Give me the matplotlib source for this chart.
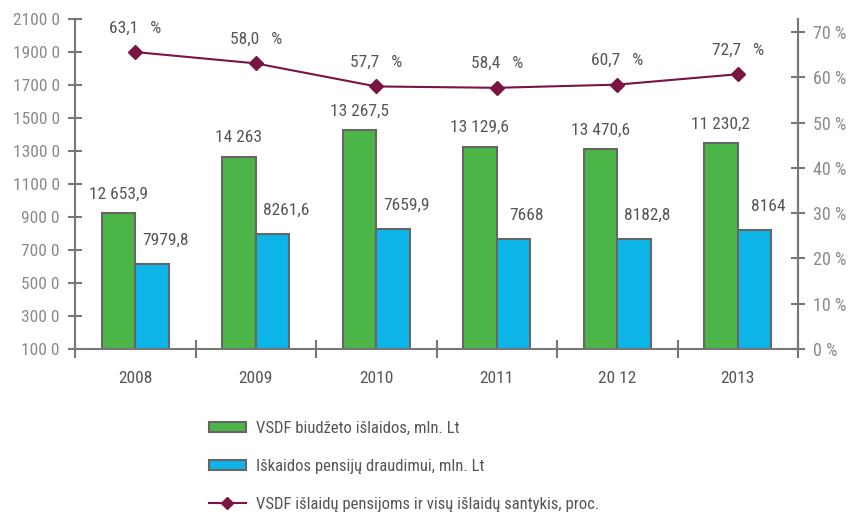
import matplotlib
matplotlib.use("Agg")
import matplotlib.pyplot as plt
from matplotlib import font_manager as fm
from matplotlib.patches import Patch
from matplotlib.lines import Line2D
import numpy as np

# ---- data ----
years = ["2008", "2009", "2010", "2011", "20 12", "2013"]
budget = [9250, 12653.9, 14263, 13267.5, 13129.6, 13470.6]
pension = [6150, 7979.8, 8261.6, 7659.9, 7668, 8182.8]
ratio = [65.6, 63.1, 58.0, 57.7, 58.4, 60.7]
budget_labels = ["12 653,9", "14 263", "13 267,5", "13 129,6", "13 470,6", "11 230,2"]
pension_labels = ["7979,8", "8261,6", "7659,9", "7668", "8182,8", "8164"]
ratio_labels = ["63,1   %", "58,0   %", "57,7   %", "58,4   %", "60,7   %", "72,7   %"]
left_ticks = [1000, 3000, 5000, 7000, 9000, 11000, 13000, 15000, 17000, 19000, 21000]
left_tick_labels = ["100 0", "300 0", "500 0", "700 0", "900 0", "1100 0", "1300 0",
                    "1500 0", "1700 0", "1900 0", "2100 0"]
right_ticks = [0, 10, 20, 30, 40, 50, 60, 70]
right_tick_labels = ["0 %", "10 %", "20 %", "30 %", "40 %", "50 %", "60 %", "70 %"]
legend_labels = ["VSDF biudžeto išlaidos, mln. Lt",
                 "Iškaidos pensijų draudimui, mln. Lt",
                 "VSDF išlaidų pensijoms ir visų išlaidų santykis, proc."]

# ---- font ----
names = {f.name for f in fm.fontManager.ttflist}
stretch = "normal"
family = "DejaVu Sans"
for cand in ["Liberation Sans Narrow", "Roboto Condensed", "Open Sans Condensed", "DejaVu Sans Condensed"]:
    if cand in names:
        family = cand
        break
else:
    stretch = "condensed"
plt.rcParams["font.family"] = [family, "DejaVu Sans"]
plt.rcParams["font.stretch"] = stretch

GREEN = "#4cb548"
BLUE = "#0db4e7"
EDGE = "#666666"
MAROON = "#7a1441"
DARK = "#555555"
LIGHT = "#8a8a8a"
AX = "#777777"

W, H = 851, 515
fig = plt.figure(figsize=(W / 100, H / 100), dpi=100)
ax = fig.add_axes([75 / W, 1 - 349 / H, (798 - 75) / W, (349 - 19) / H])

x = np.arange(len(years))
bw = 0.28
ax.bar(x - bw / 2, budget, bw, color=GREEN, edgecolor=EDGE, linewidth=1.5, zorder=2)
ax.bar(x + bw / 2, pension, bw, color=BLUE, edgecolor=EDGE, linewidth=1.5, zorder=2)
ax.set_xlim(-0.5, len(years) - 0.5)
ax.set_ylim(1000, 21000)

for i in range(len(years)):
    ax.text(x[i] - bw / 2, budget[i] + 1150, budget_labels[i], ha="center", va="center",
            fontsize=12.5, color=DARK)
    ax.text(x[i] + 0.25, pension[i] + 1450, pension_labels[i], ha="center", va="center",
            fontsize=12.5, color=DARK)

for s in ["top"]:
    ax.spines[s].set_visible(False)
for s in ["left", "right", "bottom"]:
    ax.spines[s].set_color(AX)
    ax.spines[s].set_linewidth(1.5)

ax.set_yticks(left_ticks)
ax.set_yticklabels(left_tick_labels)
ax.tick_params(axis="y", direction="inout", length=10, width=1.5, color=AX,
               labelcolor=LIGHT, labelsize=12.5, pad=6)
ax.set_xticks(np.arange(-0.5, len(years), 1.0))
ax.set_xticklabels([])
ax.set_xticks(x, minor=True)
ax.set_xticklabels(years, minor=True)
ax.tick_params(axis="x", which="major", direction="inout", length=13, width=1.5, color=AX)
ax.tick_params(axis="x", which="minor", length=0, labelcolor=DARK, labelsize=12.5, pad=16)

ax2 = ax.twinx()
ax2.plot(x, ratio, color=MAROON, linewidth=1.5, marker="D", markersize=7, zorder=3)
ax2.set_ylim(0, 72.9)
ax2.set_yticks(right_ticks)
ax2.set_yticklabels(right_tick_labels)
ax2.tick_params(axis="y", direction="inout", length=10, width=1.5, color=AX,
                labelcolor=LIGHT, labelsize=13, pad=6)
for s in ["top", "left", "bottom"]:
    ax2.spines[s].set_visible(False)
ax2.spines["right"].set_color(AX)
ax2.spines["right"].set_linewidth(1.5)
for i in range(len(years)):
    ax2.text(x[i], ratio[i] + 5.3, ratio_labels[i], ha="center", va="center",
             fontsize=12.5, color=DARK)

handles = [Patch(facecolor=GREEN, edgecolor=EDGE, linewidth=1.5),
           Patch(facecolor=BLUE, edgecolor=EDGE, linewidth=1.5),
           Line2D([], [], color=MAROON, linewidth=1.5, marker="D", markersize=6)]
fig.legend(handles, legend_labels, loc="upper left", bbox_to_anchor=(209 / W, 1 - 421 / H),
           frameon=False, borderpad=0, borderaxespad=0, handlelength=2.2, handleheight=0.6,
           handletextpad=0.65, labelspacing=1.38, fontsize=12, labelcolor=DARK)

fig.savefig("out.png", dpi=100)
